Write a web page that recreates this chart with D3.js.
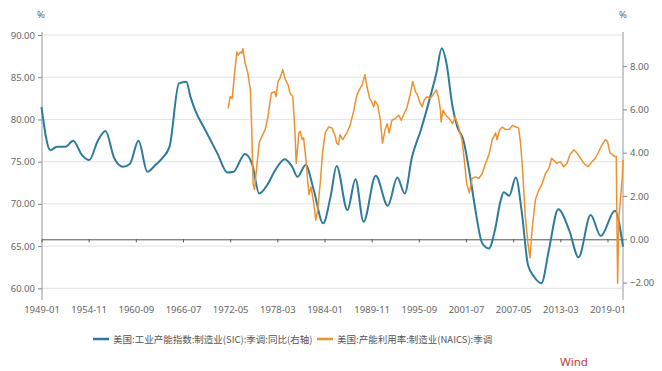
<!DOCTYPE html>
<html>
<head>
<meta charset="utf-8">
<script src="https://cdn.jsdelivr.net/npm/d3@7/dist/d3.min.js"></script>
<style>
  body { margin: 0; background: #fff; }
  text { font-family: "Noto Sans", "Noto Sans CJK SC", sans-serif; }
</style>
</head>
<body>
<div id="chart"></div>
<script>
// 美国:工业产能指数:制造业(SIC):季调:同比 (right axis, %)
let capDates = ["1949-01","1950-02","1950-12","1952-01","1952-12","1954-01","1954-12","1955-12","1956-12","1958-01",
  "1959-02","1959-12","1961-01","1962-02","1963-02","1963-12","1964-11","1966-01","1966-12","1967-06",
  "1968-01","1969-04","1970-10","1972-01","1972-10","1974-03","1975-02","1975-12","1976-12","1977-12",
  "1979-02","1980-01","1980-09","1981-09","1982-09","1983-11","1984-10","1985-07","1986-11","1987-11",
  "1988-11","1990-05","1991-11","1993-01","1993-12","1994-11","1995-12","1997-02","1997-11","1998-07",
  "1999-02","1999-11","2000-06","2001-03","2002-02","2002-09","2003-07","2004-05","2005-02","2005-10",
  "2006-03","2006-11","2007-09","2008-06","2009-03","2009-12","2010-11","2011-10","2012-12","2014-04",
  "2015-06","2016-12","2018-03","2019-12","2020-12"]
let capValues = [6.10,4.12,4.28,4.28,4.55,3.89,3.66,4.51,5.00,3.74,
  3.35,3.48,4.55,3.12,3.43,3.74,4.28,7.20,7.28,6.59,
  5.97,5.05,3.97,3.08,3.12,3.94,3.43,2.12,2.51,3.20,
  3.70,3.35,2.89,3.43,2.28,0.74,1.97,3.39,1.35,2.77,
  0.81,2.94,1.55,2.85,2.12,3.82,5.05,6.59,7.67,8.82,
  8.13,6.12,5.20,4.59,2.74,1.35,-0.18,-0.42,0.43,1.74,
  2.17,2.01,2.85,1.20,-1.19,-1.73,-2.03,-0.49,1.39,0.43,
  -0.83,1.12,0.15,1.32,-0.34]

// 美国:产能利用率:制造业(NAICS):季调 (left axis, %)
let utilDates = ["1972-02","1972-05","1972-08","1972-12","1973-03","1973-05","1973-08","1973-10","1973-12","1974-03",
  "1974-06","1974-07","1974-11","1975-01","1975-03","1975-05","1975-08","1975-12","1976-04","1976-09",
  "1977-01","1977-06","1977-11","1978-01","1978-04","1978-07","1978-11","1979-03","1979-07","1979-10",
  "1980-02","1980-05","1980-07","1980-11","1981-01","1981-04","1981-06","1981-09","1981-12","1982-02",
  "1982-05","1982-09","1982-12","1983-03","1983-07","1983-10","1984-02","1984-07","1984-12","1985-05",
  "1985-07","1985-10","1985-12","1986-04","1986-10","1987-03","1987-08","1988-01","1988-06","1988-09",
  "1989-01","1989-04","1989-08","1989-11","1990-02","1990-04","1990-08","1990-12","1991-03","1991-07",
  "1991-10","1992-01","1992-05","1992-10","1993-03","1993-07","1993-10","1994-03","1994-08","1994-12",
  "1995-04","1995-07","1995-10","1996-02","1996-05","1996-09","1997-02","1997-06","1997-11","1998-02",
  "1998-05","1998-06","1998-09","1999-01","1999-06","1999-11","2000-03","2000-08","2001-01","2001-05",
  "2001-08","2001-12","2002-04","2002-09","2003-02","2003-07","2003-12","2004-05","2004-10","2005-03",
  "2005-05","2005-09","2006-01","2006-06","2006-11","2007-04","2007-09","2008-01","2008-04","2008-07",
  "2008-11","2009-03","2009-06","2009-09","2010-02","2010-07","2010-12","2011-05","2011-10","2012-02",
  "2012-07","2012-10","2013-03","2013-08","2014-01","2014-05","2014-11","2015-04","2015-09","2016-02",
  "2016-08","2017-02","2017-07","2017-12","2018-05","2018-10","2019-01","2019-03","2019-05","2019-09",
  "2019-12","2020-02","2020-04","2020-06","2020-09","2020-11","2020-12"]
let utilValues = [81.3,82.7,82.5,85.9,88.0,87.6,88.0,87.8,88.4,86.7,
  85.9,85.6,83.5,78.8,72.4,71.7,74.0,77.2,78.0,78.8,
  80.3,83.1,83.3,82.7,84.5,84.9,85.9,84.7,84.1,83.1,
  82.7,78.8,74.8,78.4,78.6,77.6,77.8,75.6,72.8,71.1,
  72.0,70.1,68.1,69.3,72.8,76.0,78.4,79.1,79.0,78.0,
  77.2,77.0,78.2,77.6,78.4,79.3,80.9,82.9,83.7,84.1,
  85.3,83.9,82.5,82.1,81.5,82.2,81.7,79.9,77.2,78.8,
  79.5,78.4,79.9,80.1,80.5,79.9,80.5,81.3,82.9,84.5,
  83.3,82.9,82.1,81.5,82.3,82.7,82.5,82.9,83.5,82.7,
  81.1,79.7,81.1,80.5,80.1,79.5,80.3,79.1,77.6,74.8,
  72.4,71.3,73.0,73.2,73.0,73.6,74.8,75.8,77.6,78.4,
  77.6,78.8,79.1,78.8,78.8,79.3,79.1,79.0,77.2,74.0,
  68.5,65.3,63.6,66.9,70.5,71.6,72.4,73.6,74.2,75.4,
  75.0,74.8,75.0,74.4,74.8,75.8,76.4,76.0,75.4,74.8,
  74.4,75.0,75.4,76.2,77.0,77.6,77.4,76.6,76.0,75.8,
  75.6,75.6,60.6,68.5,71.3,73.2,75.2]

let leftTicks = [60, 65, 70, 75, 80, 85, 90]
let rightTicks = [-2, 0, 2, 4, 6, 8]
let xTickLabels = ["1949-01","1954-11","1960-09","1966-07","1972-05","1978-03","1984-01",
  "1989-11","1995-09","2001-07","2007-05","2013-03","2019-01"]
let legendLabels = ["美国:工业产能指数:制造业(SIC):季调:同比(右轴)", "美国:产能利用率:制造业(NAICS):季调"]
let seriesColors = ["#2e7b9b", "#ee922f"]

let svgWidth = 662
let svgHeight = 371
let plotLeft = 42, plotRight = 623, plotTop = 32, plotBottom = 300

// month index since 1949-01
function monthIndex(s) {
  return (+s.slice(0, 4) - 1949) * 12 + (+s.slice(5, 7) - 1)
}

let svg = d3.select("#chart").append("svg")
  .attr("width", svgWidth)
  .attr("height", svgHeight)

let x = d3.scaleLinear().domain([0, monthIndex("2020-12")]).range([41.5, 623])
let yLeft = d3.scaleLinear().domain([60, 90]).range([288.3, 35])
let yRight = d3.scaleLinear().domain([-2, 8]).range([282.6, 66.1])

// grid
svg.append("g").selectAll("line")
  .data(leftTicks)
  .enter().append("line")
  .attr("x1", plotLeft).attr("x2", plotRight)
  .attr("y1", d => yLeft(d)).attr("y2", d => yLeft(d))
  .attr("stroke", "#e2e2e2")

// left axis
let leftAxis = svg.append("g")
  .attr("transform", `translate(${plotLeft},0)`)
  .call(d3.axisLeft(yLeft).tickValues(leftTicks).tickFormat(d3.format(".2f")).tickSize(4).tickPadding(3))
leftAxis.select(".domain").remove()

// right axis
let rightAxis = svg.append("g")
  .attr("transform", `translate(${plotRight},0)`)
  .call(d3.axisRight(yRight).tickValues(rightTicks).tickFormat(d3.format(".2f")).tickSize(4).tickPadding(3))
rightAxis.select(".domain").remove()

svg.selectAll(".tick line").attr("stroke", "#888")
svg.selectAll(".tick text").attr("fill", "#666").style("font-size", "9.5px")

svg.append("line").attr("x1", plotLeft).attr("x2", plotLeft).attr("y1", plotTop).attr("y2", plotBottom).attr("stroke", "#999")
svg.append("line").attr("x1", plotRight).attr("x2", plotRight).attr("y1", plotTop).attr("y2", plotBottom).attr("stroke", "#999")

let xTickValues = xTickLabels.map(monthIndex)

// zero line of the right axis with x ticks
let zeroAxis = svg.append("g")
  .attr("transform", `translate(0,${yRight(0)})`)
  .call(d3.axisBottom(x).tickValues(xTickValues).tickFormat("").tickSize(3).tickSizeOuter(0))
zeroAxis.select(".domain").attr("stroke", "#555")
zeroAxis.selectAll(".tick line").attr("stroke", "#555")

// bottom labels
let bottomAxis = svg.append("g")
  .attr("transform", `translate(0,${plotBottom})`)
  .call(d3.axisBottom(x).tickValues(xTickValues).tickFormat((d, i) => xTickLabels[i]).tickSize(0).tickPadding(6))
bottomAxis.select(".domain").remove()
bottomAxis.selectAll("text").attr("fill", "#666").style("font-size", "9.5px")

// units
svg.append("text").attr("x", 41).attr("y", 18).attr("text-anchor", "middle")
  .attr("fill", "#666").style("font-size", "9.5px").text("%")
svg.append("text").attr("x", 623).attr("y", 18).attr("text-anchor", "middle")
  .attr("fill", "#666").style("font-size", "9.5px").text("%")

// lines
let capData = capDates.map((d, i) => ({ m: monthIndex(d), v: capValues[i] }))
let utilData = utilDates.map((d, i) => ({ m: monthIndex(d), v: utilValues[i] }))

svg.append("path")
  .datum(capData)
  .attr("fill", "none")
  .attr("stroke", seriesColors[0])
  .attr("stroke-width", 2)
  .attr("d", d3.line().x(d => x(d.m)).y(d => yRight(d.v)).curve(d3.curveMonotoneX))

svg.append("path")
  .datum(utilData)
  .attr("fill", "none")
  .attr("stroke", seriesColors[1])
  .attr("stroke-width", 1.5)
  .attr("stroke-linejoin", "round")
  .attr("d", d3.line().x(d => x(d.m)).y(d => yLeft(d.v)))

// legend
let legendX = [93, 317]
legendLabels.forEach((label, i) => {
  svg.append("line")
    .attr("x1", legendX[i]).attr("x2", legendX[i] + 16)
    .attr("y1", 339).attr("y2", 339)
    .attr("stroke", seriesColors[i]).attr("stroke-width", 2.5)
  svg.append("text")
    .attr("x", legendX[i] + 20).attr("y", 342.5)
    .attr("fill", "#555")
    .style("font-size", "9.5px")
    .style("font-family", "'Noto Sans CJK SC', sans-serif")
    .text(label)
})

svg.append("text").attr("x", 560).attr("y", 366)
  .attr("fill", "#c0393b").style("font-size", "11.5px").text("Wind")
</script>
</body>
</html>
